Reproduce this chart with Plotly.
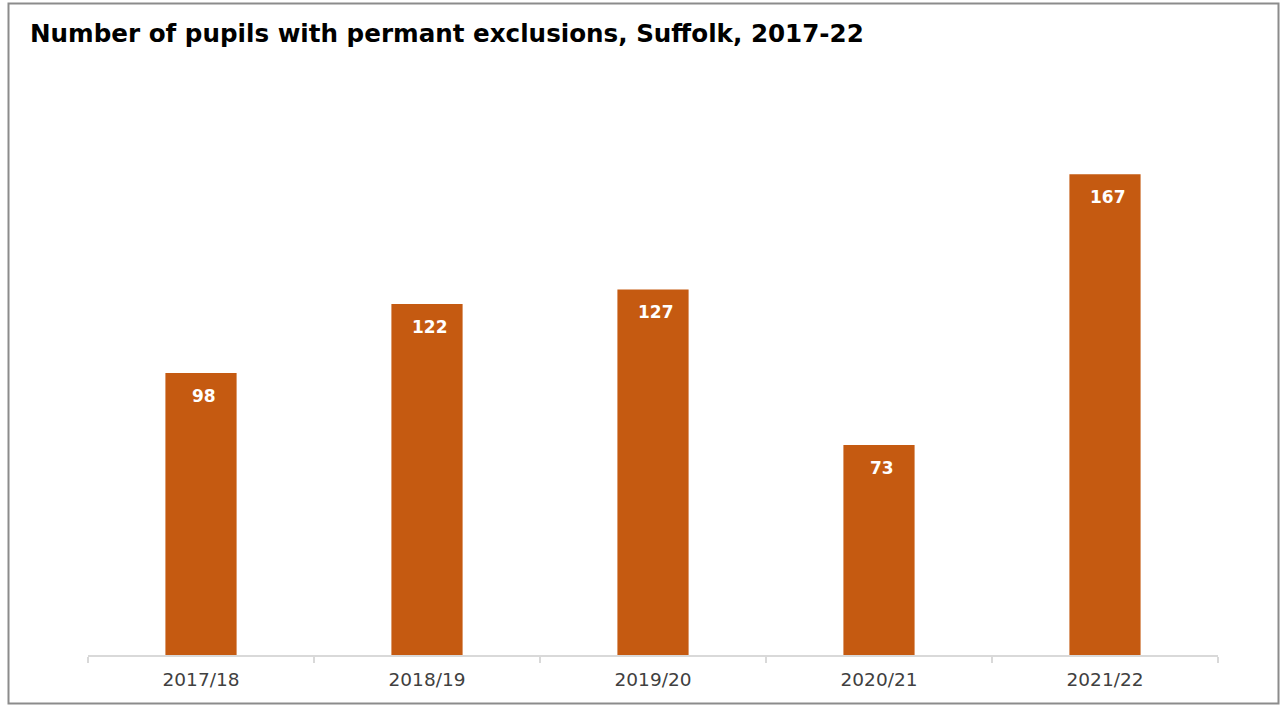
import plotly.graph_objects as go

# Permanent exclusions by academic year
years = ["2017/18", "2018/19", "2019/20", "2020/21", "2021/22"]
pupils = [98, 122, 127, 73, 167]

W, H = 1281, 707
L, R, T, B = 88, 63, 85, 52
pw, ph = W - L - R, H - T - B

fig = go.Figure(
    go.Bar(
        x=years,
        y=pupils,
        marker=dict(color="#C55A11", line=dict(width=0)),
        width=0.315,
        hoverinfo="x+y",
    )
)

# value labels sitting just inside the top of each bar
for yr, v in zip(years, pupils):
    fig.add_annotation(
        x=yr, y=v, text=f"<b>{v}</b>", showarrow=False,
        yanchor="top", yshift=-11, xshift=3,
        font=dict(family="DejaVu Sans", size=17, color="white"),
    )

# outer frame around the whole chart
def px_x(p):
    return (p - L) / pw

def px_y(p):
    return (H - B - p) / ph

fig.add_shape(
    type="rect", xref="paper", yref="paper",
    x0=px_x(8.5), x1=px_x(1278.5), y0=px_y(703.5), y1=px_y(3.5),
    line=dict(color="#8c8c8c", width=2), fillcolor="rgba(0,0,0,0)",
    layer="below",
)

fig.update_layout(
    width=W, height=H,
    margin=dict(l=L, r=R, t=T, b=B),
    paper_bgcolor="white", plot_bgcolor="white",
    showlegend=False,
    title=dict(
        text="<b>Number of pupils with permant exclusions, Suffolk, 2017-22</b>",
        x=30 / W, xanchor="left", xref="container",
        y=1 - 33 / H, yanchor="middle", yref="container",
        font=dict(family="DejaVu Sans", size=24.6, color="black"),
    ),
    xaxis=dict(
        showline=True, linecolor="#d9d9d9", linewidth=2,
        ticks="outside", tickson="boundaries", ticklen=6,
        tickcolor="#d9d9d9", tickwidth=2,
        ticklabelstandoff=7,
        tickfont=dict(family="DejaVu Sans", size=18.5, color="#404040"),
        showgrid=False, zeroline=False,
    ),
    yaxis=dict(
        range=[0, ph / 2.878], visible=False, showgrid=False, zeroline=False,
    ),
    bargap=0.685,
)

fig.write_html("out.html")
